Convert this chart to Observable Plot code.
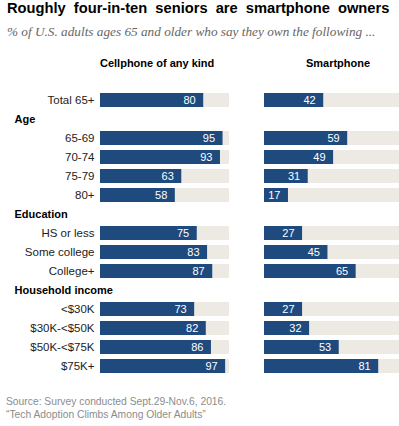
<!DOCTYPE html>
<html>
<head>
<meta charset="utf-8">
<script src="https://cdn.jsdelivr.net/npm/d3@7"></script>
<script src="https://cdn.jsdelivr.net/npm/@observablehq/plot@0.6"></script>
<style>
  html, body { margin: 0; padding: 0; background: #fff; overflow: hidden; }
  #wrap { position: relative; width: 399px; height: 426px; overflow: hidden; font-family: "Liberation Sans", Arial, sans-serif; }
  .abs { position: absolute; white-space: nowrap; }
  #title { left: 7px; top: 1px; font-size: 14.7px; line-height: 14.7px; font-weight: bold; color: #000; word-spacing: 4px; }
  #subtitle { left: 7px; top: 25px; font-family: "Liberation Serif", serif; font-style: italic; font-size: 13.25px; line-height: 13px; color: #666; }
  .head { top: 58px; font-size: 11px; line-height: 11px; font-weight: bold; color: #000; }
  #source { left: 6px; top: 395px; font-size: 10.3px; line-height: 13px; color: #8c8c8c; }
  #left { left: 0; top: 72px; }
  #right { left: 264px; top: 72px; }
</style>
</head>
<body>
<div id="wrap">
  <div id="title" class="abs">Roughly four-in-ten seniors are smartphone owners</div>
  <div id="subtitle" class="abs">% of U.S. adults ages 65 and older who say they own the following ...</div>
  <div id="h1" class="abs head" style="left:100px;"></div>
  <div id="h2" class="abs head" style="left:278px;width:120px;text-align:center;"></div>
  <div id="left" class="abs"></div>
  <div id="right" class="abs"></div>
  <div id="source" class="abs">Source: Survey conducted Sept.29-Nov.6, 2016.<br>“Tech Adoption Climbs Among Older Adults”</div>
</div>
<script>
const panels = ["Cellphone of any kind", "Smartphone"];
const headers = ["Age", "Education", "Household income"];
const categories = ["Total 65+", "65-69", "70-74", "75-79", "80+", "HS or less", "Some college", "College+", "<$30K", "$30K-<$50K", "$50K-<$75K", "$75K+"];
const categoryGroup = [null, "Age", "Age", "Age", "Age", "Education", "Education", "Education", "Household income", "Household income", "Household income", "Household income"];
const cellphone = [80, 95, 93, 63, 58, 75, 83, 87, 73, 82, 86, 97];
const smartphone = [42, 59, 49, 31, 17, 27, 45, 65, 27, 32, 53, 81];

// row order: ungrouped first, then each header followed by its categories
const rowOrder = [];
categories.forEach((c, i) => { if (categoryGroup[i] === null) rowOrder.push(c); });
headers.forEach(h => {
  rowOrder.push(h);
  categories.forEach((c, i) => { if (categoryGroup[i] === h) rowOrder.push(c); });
});

const BLUE = "#1f4a7e";
const GREY = "#eceae3";

function panel(values, opts) {
  const data = categories.map((c, i) => ({category: c, value: values[i]}));
  const marks = [
    Plot.barX(data, {y: "category", x: () => 100, fill: GREY, clip: true}),
    Plot.barX(data, {y: "category", x: "value", fill: BLUE}),
    Plot.text(data, {y: "category", x: "value", text: d => String(d.value), textAnchor: "end", dx: -8, fill: "#fff", fontSize: 11})
  ];
  if (opts.labels) {
    marks.push(Plot.axisY({tickSize: 0, tickPadding: 6, label: null, fontSize: 11.5, tickFormat: d => headers.includes(d) ? "" : d, color: "#222"}));
    marks.push(Plot.text(headers, {y: d => d, x: () => 0, text: d => d, textAnchor: "start", dx: -86, fontWeight: "bold", fontSize: 11, fill: "#000"}));
  }
  return Plot.plot({
    width: opts.width,
    height: 310,
    marginTop: 11.5,
    marginBottom: 0,
    marginLeft: opts.marginLeft,
    marginRight: opts.marginRight,
    style: {fontFamily: "Liberation Sans, Arial, sans-serif", fontSize: "11.5px", background: "transparent", overflow: "hidden"},
    x: {domain: [0, 100], range: opts.range, axis: null},
    y: {domain: rowOrder, padding: 0.28, axis: null},
    marks
  });
}

document.getElementById("h1").textContent = panels[0];
document.getElementById("h2").textContent = panels[1];
document.getElementById("left").appendChild(panel(cellphone, {width: 264, marginLeft: 100, marginRight: 35, labels: true}));
document.getElementById("right").appendChild(panel(smartphone, {width: 135, marginLeft: 0, marginRight: 0, range: [0, 141]}));
</script>
</body>
</html>
